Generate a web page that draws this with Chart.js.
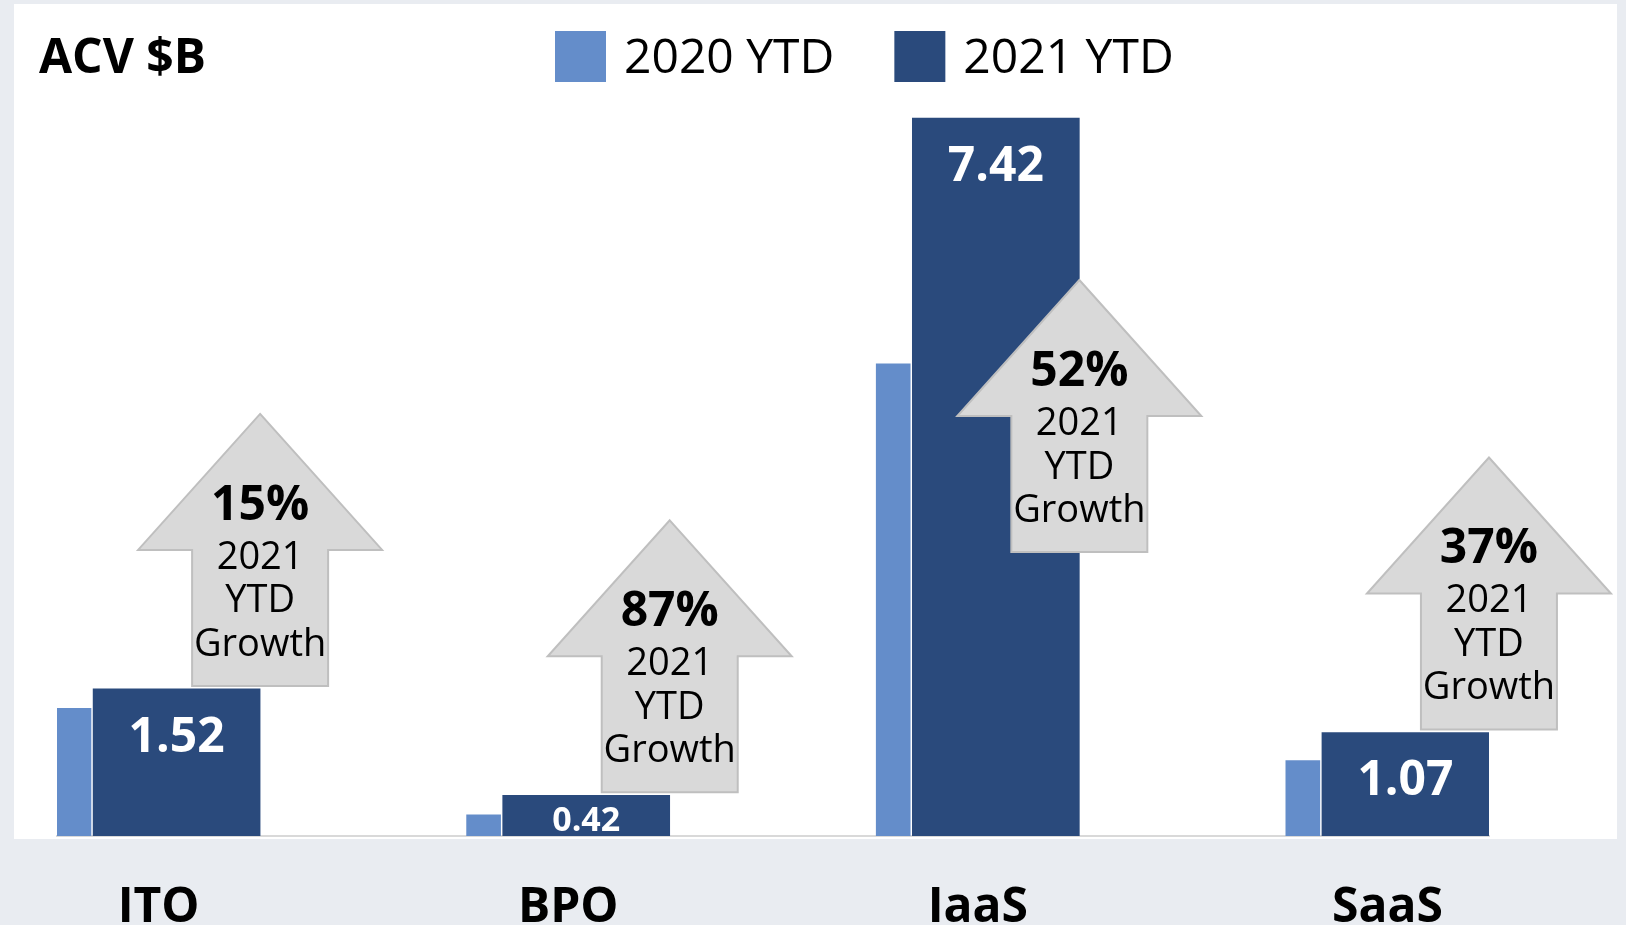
<!DOCTYPE html>
<html>
<head>
<meta charset="utf-8">
<title>ACV $B</title>
<script src="https://cdn.jsdelivr.net/npm/chart.js@4.4.1/dist/chart.umd.min.js"></script>
<style>
    html, body { margin: 0; padding: 0; background: #e9ecf1; }
    #wrap { width: 1626px; height: 925px; }
</style>
</head>
<body>
<div id="wrap"><canvas id="acvChart" width="1626" height="925"></canvas></div>
<script>
// ===================================
// Data
// ===================================
const categories = ['ITO', 'BPO', 'IaaS', 'SaaS'];
const seriesLabels = ['2020 YTD', '2021 YTD'];
const acv2020 = [1.32, 0.22, 4.88, 0.78];
const acv2021 = [1.52, 0.42, 7.42, 1.07];
const growthPct = [15, 87, 52, 37];
const growthCaption = ['2021', 'YTD', 'Growth'];
const chartTitle = 'ACV $B';

// ===================================
// Layout & style
// ===================================
const W = 1626;
const FONT = '"Open Sans", "Noto Sans", sans-serif';
const COLOR_2020 = '#648dca';
const COLOR_2021 = '#2a4a7c';
const PAD = { left: 57, right: 137, top: 62 };
const AXIS_H = 89;

// bar group widths in category units (1 = distance between two categories)
const OLD_W = 0.083, GAP = 0.005, NEW_W = 0.408;
const GROUP = OLD_W + GAP + NEW_W;
const OLD_OFF = -GROUP / 2 + OLD_W / 2;
const NEW_OFF = GROUP / 2 - NEW_W / 2;
const X_MIN = -GROUP / 2;
const X_MAX = categories.length - 1 + GROUP / 2;
const UNIT_PX = (W - PAD.left - PAD.right) / (X_MAX - X_MIN);

// growth arrow shape
const ARROW = { h: 272, head: 136, headHalf: 122, shaftHalf: 68 };

/**
 * Background panel, title and legend
 */
const panelPlugin = {
    id: 'panel',
    beforeDraw(chart) {
        const ctx = chart.ctx;
        ctx.save();
        ctx.fillStyle = '#e9ecf1';
        ctx.fillRect(0, 0, chart.width, chart.height);
        ctx.fillStyle = '#ffffff';
        ctx.fillRect(14, 4, 1603, 835);

        ctx.textBaseline = 'alphabetic';
        ctx.textAlign = 'left';
        ctx.fillStyle = '#000';
        ctx.font = 'bold 48px ' + FONT;
        ctx.fillText(chartTitle, 39, 73);

        // legend
        ctx.font = '48px ' + FONT;
        let x = 555;
        chart.data.datasets.forEach(ds => {
            ctx.fillStyle = ds.backgroundColor;
            ctx.fillRect(x, 31, 51, 51);
            ctx.fillStyle = '#000';
            ctx.fillText(ds.label, x + 69, 73);
            x += 69 + ctx.measureText(ds.label).width + 60;
        });
        ctx.restore();
    }
};

function drawArrow(ctx, cx, tip) {
    const a = ARROW;
    ctx.beginPath();
    ctx.moveTo(cx, tip);
    ctx.lineTo(cx + a.headHalf, tip + a.head);
    ctx.lineTo(cx + a.shaftHalf, tip + a.head);
    ctx.lineTo(cx + a.shaftHalf, tip + a.h);
    ctx.lineTo(cx - a.shaftHalf, tip + a.h);
    ctx.lineTo(cx - a.shaftHalf, tip + a.head);
    ctx.lineTo(cx - a.headHalf, tip + a.head);
    ctx.closePath();
    ctx.fillStyle = '#d9d9d9';
    ctx.fill();
    ctx.lineWidth = 2;
    ctx.strokeStyle = '#bfbfbf';
    ctx.stroke();
}

/**
 * Value labels inside the 2021 bars + growth arrows
 */
const growthPlugin = {
    id: 'growthArrows',
    afterDatasetsDraw(chart) {
        const ctx = chart.ctx;
        const area = chart.chartArea;
        const bars = chart.getDatasetMeta(1).data;
        ctx.save();
        ctx.textAlign = 'center';
        ctx.textBaseline = 'alphabetic';
        bars.forEach((bar, i) => {
            const { x, y, base, width } = bar.getProps(['x', 'y', 'base', 'width'], true);

            // value label
            const tall = base - y > 70;
            const size = tall ? 48 : 34;
            ctx.font = 'bold ' + size + 'px ' + FONT;
            ctx.fillStyle = '#ffffff';
            const ly = tall ? y + 63 : (y + base) / 2 + size * 0.357 + 3;
            ctx.fillText(acv2021[i].toFixed(2), x, ly);

            // arrow sits on the right edge of the bar, just above it
            const cx = x + width / 2;
            let tip = y - 3 - ARROW.h;
            if (tip < area.top) tip = area.top + 218;
            drawArrow(ctx, cx, tip);

            ctx.fillStyle = '#000';
            ctx.font = 'bold 48px ' + FONT;
            ctx.fillText(growthPct[i] + '%', cx, tip + 106);
            ctx.font = '38px ' + FONT;
            growthCaption.forEach((line, k) => {
                ctx.fillText(line, cx, tip + 155 + k * 43.5);
            });
        });
        ctx.restore();
    }
};

function buildChart() {
    const canvas = document.getElementById('acvChart');
    new Chart(canvas, {
        type: 'bar',
        data: {
            datasets: [
                {
                    label: seriesLabels[0],
                    data: acv2020.map((v, i) => ({ x: i + OLD_OFF, y: v })),
                    backgroundColor: COLOR_2020,
                    barThickness: Math.round(OLD_W * UNIT_PX),
                    grouped: false,
                    borderWidth: 0
                },
                {
                    label: seriesLabels[1],
                    data: acv2021.map((v, i) => ({ x: i + NEW_OFF, y: v })),
                    backgroundColor: COLOR_2021,
                    barThickness: Math.round(NEW_W * UNIT_PX),
                    grouped: false,
                    borderWidth: 0
                }
            ]
        },
        options: {
            responsive: false,
            animation: false,
            layout: {
                padding: { left: PAD.left, right: PAD.right, top: PAD.top, bottom: 0 }
            },
            plugins: {
                legend: { display: false },
                title: { display: false },
                tooltip: { enabled: false }
            },
            scales: {
                x: {
                    type: 'linear',
                    min: X_MIN,
                    max: X_MAX,
                    bounds: 'data',
                    offset: false,
                    grid: { display: false },
                    border: { display: true, color: '#d9d9d9', width: 2 },
                    afterBuildTicks: axis => {
                        axis.ticks = categories.map((c, i) => ({ value: i }));
                    },
                    afterFit: axis => {
                        axis.height = AXIS_H;
                    },
                    ticks: {
                        padding: 36,
                        autoSkip: false,
                        maxRotation: 0,
                        color: '#000',
                        font: { family: FONT, size: 48, weight: 'bold' },
                        callback: value => categories[value]
                    }
                },
                y: {
                    display: false,
                    min: 0,
                    max: 8
                }
            }
        },
        plugins: [panelPlugin, growthPlugin]
    });
}

Promise.all([
    document.fonts.load('bold 48px "Open Sans"'),
    document.fonts.load('48px "Open Sans"')
]).then(buildChart, buildChart);
</script>
</body>
</html>
